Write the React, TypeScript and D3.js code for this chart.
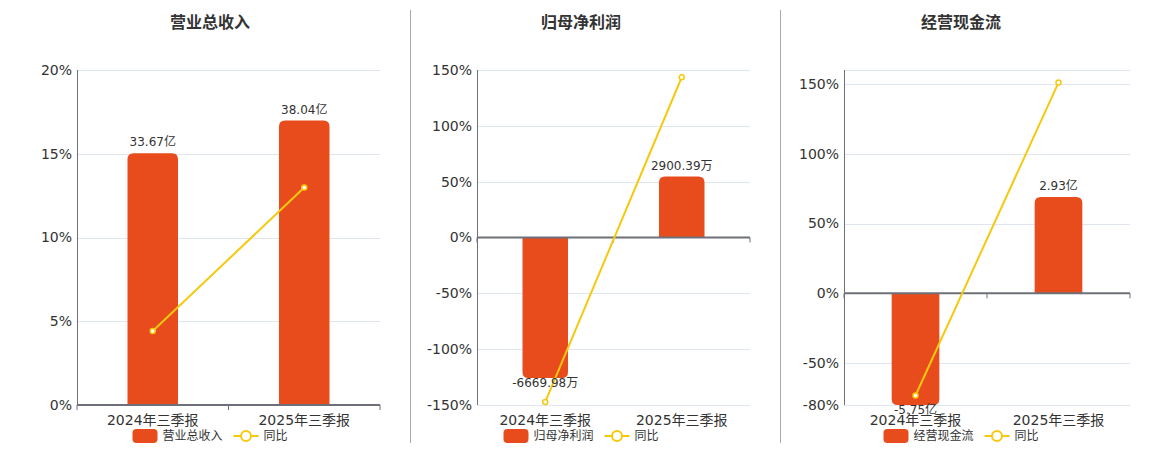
import React, { useEffect, useRef } from "react";
import * as d3 from "d3";

// categories + series
const periods = ["2024年三季报", "2025年三季报"];
const titles = ["营业总收入", "归母净利润", "经营现金流"];
const revenue = [33.67, 38.04]; // 亿
const revenueLabels = ["33.67亿", "38.04亿"];
const revenueYoy = [4.42, 12.98]; // %
const netProfit = [-6669.98, 2900.39]; // 万
const netProfitLabels = ["-6669.98万", "2900.39万"];
const netProfitYoy = [-147.3, 143.5];
const cashFlow = [-5.75, 2.93]; // 亿
const cashFlowLabels = ["-5.75亿", "2.93亿"];
const cashFlowYoy = [-73.2, 150.96];
const yoyName = "同比";

// percent axis ticks for each panel
const revenueTicks = [0, 5, 10, 15, 20];
const netProfitTicks = [-150, -100, -50, 0, 50, 100, 150];
const cashFlowTicks = [-80, -50, 0, 50, 100, 150];
const cashFlowGridOnly = [160];

const BAR = "#e84c1d";
const LINE = "#f5c90f";
const TEXT = "#333";
const AXIS = "#6e7079";
const GRID = "#e0e6f1";
const FONT = "'DejaVu Sans', 'Noto Sans CJK SC', sans-serif";

interface Panel {
  title: string;
  bars: number[];
  labels: string[];
  yoy: number[];
  ticks: number[];
  extraGrid: number[];
  pctDomain: [number, number];
  barDomain: [number, number];
  left: number;
  right: number;
  centerX: number;
}

const panels: Panel[] = [
  { title: titles[0], bars: revenue, labels: revenueLabels, yoy: revenueYoy, ticks: revenueTicks, extraGrid: [],
    pctDomain: [0, 20], barDomain: [0, 44.8], left: 77, right: 380, centerX: 210 },
  { title: titles[1], bars: netProfit, labels: netProfitLabels, yoy: netProfitYoy, ticks: netProfitTicks, extraGrid: [],
    pctDomain: [-150, 150], barDomain: [-7950, 7950], left: 477, right: 750, centerX: 581 },
  { title: titles[2], bars: cashFlow, labels: cashFlowLabels, yoy: cashFlowYoy, ticks: cashFlowTicks, extraGrid: cashFlowGridOnly,
    pctDomain: [-80, 160], barDomain: [-3.4, 6.8], left: 844, right: 1130, centerX: 961 },
];

const top = 70;
const bottom = 405;

// bar path with rounded corners on the far end from zero
function barPath(x: number, w: number, y0: number, y1: number, r: number) {
  const h = Math.abs(y1 - y0);
  const rr = Math.min(r, h, w / 2);
  if (y1 < y0) {
    return `M${x},${y0}V${y1 + rr}Q${x},${y1} ${x + rr},${y1}H${x + w - rr}Q${x + w},${y1} ${x + w},${y1 + rr}V${y0}Z`;
  }
  return `M${x},${y0}V${y1 - rr}Q${x},${y1} ${x + rr},${y1}H${x + w - rr}Q${x + w},${y1} ${x + w},${y1 - rr}V${y0}Z`;
}

export default function App() {
  const svgRef = useRef<SVGSVGElement | null>(null);

  useEffect(() => {
    if (!svgRef.current) return;
    const svg = d3.select(svgRef.current);
    svg.selectAll("*").remove();
    svg.attr("width", 1160).attr("height", 450).style("font-family", FONT);

    // dividers between panels
    [410, 780].forEach((dx) => {
      svg.append("line")
        .attr("x1", dx + 0.5).attr("x2", dx + 0.5)
        .attr("y1", 10).attr("y2", 443)
        .attr("stroke", "#aaa").attr("stroke-width", 1);
    });

    panels.forEach((p) => {
      const g = svg.append("g");

      const x = d3.scaleBand<string>().domain(periods).range([p.left, p.right]);
      const y = d3.scaleLinear().domain(p.pctDomain).range([bottom, top]);
      const yBar = d3.scaleLinear().domain(p.barDomain).range([bottom, top]).clamp(true);
      const zeroY = y(0);
      const bw = x.bandwidth() / 3;

      // title
      g.append("text")
        .attr("x", p.centerX).attr("y", 28)
        .attr("text-anchor", "middle")
        .attr("fill", TEXT)
        .style("font-size", "16px").style("font-weight", "bold")
        .text(p.title);

      // grid
      [...p.ticks, ...p.extraGrid].forEach((t) => {
        if (t === 0) return;
        g.append("line")
          .attr("x1", p.left).attr("x2", p.right)
          .attr("y1", Math.round(y(t)) + 0.5).attr("y2", Math.round(y(t)) + 0.5)
          .attr("stroke", GRID);
      });

      // y axis
      g.append("line")
        .attr("x1", p.left + 0.5).attr("x2", p.left + 0.5)
        .attr("y1", top).attr("y2", bottom)
        .attr("stroke", AXIS);
      p.ticks.forEach((t) => {
        g.append("text")
          .attr("x", p.left - 5).attr("y", y(t))
          .attr("dy", "0.35em")
          .attr("text-anchor", "end")
          .attr("fill", TEXT)
          .style("font-size", "14px")
          .text(`${t}%`);
      });

      // bars
      p.bars.forEach((v, i) => {
        const cx = (x(periods[i]) as number) + x.bandwidth() / 2;
        g.append("path")
          .attr("d", barPath(cx - bw / 2, bw, zeroY, yBar(v), 6))
          .attr("fill", BAR);
      });

      // x axis on zero line
      g.append("line")
        .attr("x1", p.left).attr("x2", p.right)
        .attr("y1", zeroY).attr("y2", zeroY)
        .attr("stroke", AXIS).attr("stroke-width", 2);
      [p.left, (p.left + p.right) / 2, p.right].forEach((tx) => {
        g.append("line")
          .attr("x1", tx).attr("x2", tx)
          .attr("y1", zeroY).attr("y2", zeroY + 5)
          .attr("stroke", AXIS);
      });
      periods.forEach((c) => {
        g.append("text")
          .attr("x", (x(c) as number) + x.bandwidth() / 2).attr("y", 420)
          .attr("dy", "0.35em")
          .attr("text-anchor", "middle")
          .attr("fill", TEXT)
          .style("font-size", "14px")
          .text(c);
      });

      // yoy line
      const pts: [number, number][] = p.yoy.map((v, i) => [
        (x(periods[i]) as number) + x.bandwidth() / 2,
        y(v),
      ]);
      g.append("path")
        .attr("d", d3.line()(pts))
        .attr("fill", "none")
        .attr("stroke", LINE)
        .attr("stroke-width", 2);
      pts.forEach(([px, py]) => {
        g.append("circle")
          .attr("cx", px).attr("cy", py).attr("r", 2.5)
          .attr("fill", "#fff").attr("stroke", LINE).attr("stroke-width", 1.5);
      });

      // bar labels
      p.bars.forEach((v, i) => {
        const cx = (x(periods[i]) as number) + x.bandwidth() / 2;
        const end = yBar(v);
        g.append("text")
          .attr("x", cx)
          .attr("y", v >= 0 ? end - 11 : end + 5)
          .attr("dy", "0.35em")
          .attr("text-anchor", "middle")
          .attr("fill", TEXT)
          .style("font-size", "12px")
          .text(p.labels[i]);
      });

      // legend, centred under the title
      const nameW = p.title.length * 12;
      const total = 25 + 5 + nameW + 11 + 25 + 5 + 24;
      const lx = p.centerX - total / 2;
      const ly = 436;
      const legend = g.append("g").attr("transform", `translate(${lx},${ly})`);
      legend.append("rect")
        .attr("x", 0).attr("y", -7).attr("width", 25).attr("height", 14)
        .attr("rx", 4).attr("fill", BAR);
      legend.append("text")
        .attr("x", 30).attr("dy", "0.35em")
        .attr("fill", TEXT).style("font-size", "12px")
        .text(p.title);
      const lineX = 30 + nameW + 11;
      legend.append("line")
        .attr("x1", lineX).attr("x2", lineX + 25)
        .attr("stroke", LINE).attr("stroke-width", 2);
      legend.append("circle")
        .attr("cx", lineX + 12.5).attr("r", 5)
        .attr("fill", "#fff").attr("stroke", LINE).attr("stroke-width", 2);
      legend.append("text")
        .attr("x", lineX + 30).attr("dy", "0.35em")
        .attr("fill", TEXT).style("font-size", "12px")
        .text(yoyName);
    });
  }, []);

  return (
    <div style={{ position: "absolute", left: 0, top: 0, width: 1160, height: 450, background: "#fff" }}>
      <svg ref={svgRef} />
    </div>
  );
}
